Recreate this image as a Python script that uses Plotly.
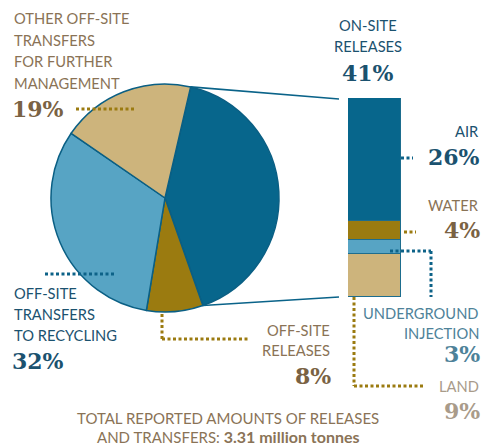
import math
import plotly.graph_objects as go

# ---- data ----
pie_labels = ["On-site releases", "Off-site releases", "Off-site transfers to recycling",
              "Other off-site transfers for further management"]
pie_values = [41, 8, 32, 19]
pie_colors = ["#07668c", "#9b7b10", "#57a4c4", "#cdb47c"]

onsite_labels = ["Land", "Underground injection", "Water", "Air"]   # bottom -> top
onsite_values = [9, 3, 4, 26]
onsite_colors = ["#cdb47c", "#57a4c4", "#9b7b10", "#07668c"]

total_text = "3.31 million tonnes"

W, H = 483, 445
def X(px): return px / W
def Y(py): return 1 - py / H

# pie geometry (pixels)
CX, CY, R = 165, 198, 114
ROT = 13

BROWN = "#8a7356"
TEAL = "#1b526f"
UI_C = "#4e8299"
LAND_C = "#a99b8a"
SANS = "Lato"
SERIF = "DejaVu Serif"

fig = go.Figure()
fig.add_trace(go.Pie(
    labels=pie_labels, values=pie_values, sort=False, direction="clockwise",
    rotation=ROT, textinfo="none", hoverinfo="label+percent",
    marker=dict(colors=pie_colors, line=dict(color="#0a5f84", width=1.5)),
    domain=dict(x=[X(CX - R), X(CX + R)], y=[Y(CY + R), Y(CY - R)]),
    showlegend=False))

for lab, v, c in zip(onsite_labels, onsite_values, onsite_colors):
    fig.add_trace(go.Bar(x=[0], y=[v], name=lab, width=1, marker=dict(color=c, line=dict(color="#1d6d8e", width=1)),
                         xaxis="x", yaxis="y", showlegend=False))

BAR_X0, BAR_X1, BAR_Y0, BAR_Y1 = 348, 401, 98, 297
fig.update_layout(
    width=W, height=H, margin=dict(l=0, r=0, t=0, b=0),
    paper_bgcolor="white", plot_bgcolor="rgba(0,0,0,0)", barmode="stack", bargap=0,
    xaxis=dict(domain=[X(BAR_X0), X(BAR_X1)], range=[-0.5, 0.5], visible=False, fixedrange=True),
    yaxis=dict(domain=[Y(BAR_Y1), Y(BAR_Y0)], range=[0, sum(onsite_values)], visible=False, fixedrange=True),
)

shapes = []
# connector lines from on-site slice edges to bar
tot = sum(pie_values)
a0 = math.radians(ROT)
a1 = math.radians(ROT + 360 * pie_values[0] / tot)
p0 = (CX + R * math.sin(a0), CY - R * math.cos(a0))
p1 = (CX + R * math.sin(a1), CY - R * math.cos(a1))
for (x0, y0), (x1, y1) in [(p0, (339, 99)), (p1, (339, 297))]:
    shapes.append(dict(type="line", xref="paper", yref="paper", x0=X(x0), y0=Y(y0), x1=X(x1), y1=Y(y1),
                       line=dict(color="#0a6389", width=1.6)))

def dotted(pts, color):
    for (xa, ya), (xb, yb) in zip(pts[:-1], pts[1:]):
        shapes.append(dict(type="line", xref="paper", yref="paper", x0=X(xa), y0=Y(ya), x1=X(xb), y1=Y(yb),
                           line=dict(color=color, width=3, dash="3px,2.5px")))

GOLD = "#9b7b10"
DT = "#0d6288"
dotted([(76, 109), (135, 109)], GOLD)
dotted([(45, 274), (116, 274)], DT)
dotted([(162, 314), (162, 339), (250, 339)], GOLD)
dotted([(401, 158), (413, 158)], DT)
dotted([(404, 232), (416, 232)], GOLD)
dotted([(390, 251), (431, 251), (431, 297)], DT)
dotted([(354, 297), (354, 386), (425, 386)], GOLD)
fig.update_layout(shapes=shapes)

ann = []
def txt(s, x, y, color, size, font=SANS, xanchor="left", bold=False):
    ann.append(dict(text=(f"<b>{s}</b>" if bold else s), x=X(x), y=Y(y), xref="paper", yref="paper",
                    xanchor=xanchor, yanchor="middle", showarrow=False, borderpad=0,
                    font=dict(family=font, size=size, color=color)))

LS = 14.7
PS = 22
for i, s in enumerate(["OTHER OFF-SITE", "TRANSFERS", "FOR FURTHER", "MANAGEMENT"]):
    txt(s, 13, 18 + i * 21.5, BROWN, LS)
txt(f"{pie_values[3]}%", 11, 109, "#7a6243", PS, SERIF, bold=True)

txt("ON-SITE", 368, 25, TEAL, LS, xanchor="center")
txt("RELEASES", 368, 46, TEAL, LS, xanchor="center")
txt(f"{pie_values[0]}%", 368, 73, TEAL, PS, SERIF, "center", True)

txt("AIR", 480, 131, TEAL, LS, xanchor="right")
txt(f"{onsite_values[3]}%", 481, 157, TEAL, PS, SERIF, "right", True)
txt("WATER", 480, 205, BROWN, LS, xanchor="right")
txt(f"{onsite_values[2]}%", 481, 230, "#7a6243", PS, SERIF, "right", True)
txt("UNDERGROUND", 480, 313, UI_C, LS, xanchor="right")
txt("INJECTION", 480, 333, UI_C, LS, xanchor="right")
txt(f"{onsite_values[1]}%", 481, 354, UI_C, PS, SERIF, "right", True)
txt("LAND", 480, 386, LAND_C, LS, xanchor="right")
txt(f"{onsite_values[0]}%", 481, 411, LAND_C, PS, SERIF, "right", True)

txt("OFF-SITE", 331, 330, BROWN, LS, xanchor="right")
txt("RELEASES", 331, 350, BROWN, LS, xanchor="right")
txt(f"{pie_values[1]}%", 332, 376, "#7a6243", PS, SERIF, "right", True)

for i, s in enumerate(["OFF-SITE", "TRANSFERS", "TO RECYCLING"]):
    txt(s, 13, 293 + i * 21, TEAL, LS)
txt(f"{pie_values[2]}%", 11, 361, TEAL, PS, SERIF, bold=True)

txt("TOTAL REPORTED AMOUNTS OF RELEASES", 228, 418, BROWN, 15, xanchor="center")
txt(f"AND TRANSFERS: <b><span style='font-size:16px'>{total_text}</span></b>", 228, 436.5, BROWN, 15, xanchor="center")
fig.update_layout(annotations=ann)

fig.write_html("out.html", config={"displayModeBar": False},
               post_script="document.body.style.margin='0';document.body.style.overflow='hidden';")
